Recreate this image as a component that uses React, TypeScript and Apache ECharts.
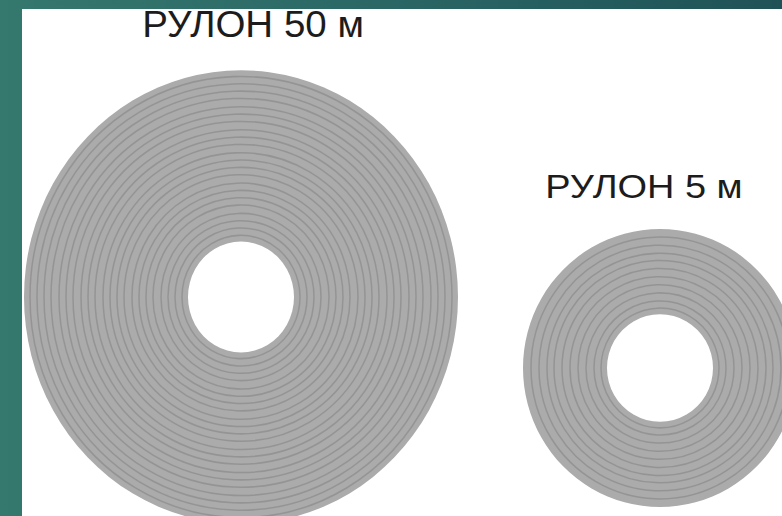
import React, { useEffect, useRef } from "react";
import * as echarts from "echarts";

// Roll labels and geometry (in picture units)
const rollNames = ["РУЛОН 50 м", "РУЛОН 5 м"];
const rollCenterX = [241, 660];
const rollCenterY = [297, 368];
const rollOuterR = [217, 137];
const rollHoleR = [53, 53];
const rollAspect = [1.045, 1.015];

// Radii of the winding lines of each roll
const bigRingRadii = [59, 66, 73, 80, 88, 95, 102, 109, 117, 124, 131, 138, 146, 153, 160, 168, 175, 182, 190, 197, 204, 211];
const smallRingRadii = [59, 66, 74, 82, 90, 98, 106, 113, 121, 129];

const W = 782;
const H = 516;

export default function App() {
  const ref = useRef<HTMLDivElement>(null);

  useEffect(() => {
    document.body.style.margin = "0";
    if (!ref.current) return;
    const chart = echarts.init(ref.current, null, { renderer: "svg" });

    const discData = rollNames.map((_, i) => [rollCenterX[i], rollCenterY[i], rollOuterR[i], rollHoleR[i], rollAspect[i]]);
    const ringData: number[][] = [];
    bigRingRadii.forEach((r) => ringData.push([rollCenterX[0], rollCenterY[0], r, rollAspect[0]]));
    smallRingRadii.forEach((r) => ringData.push([rollCenterX[1], rollCenterY[1], r, rollAspect[1]]));
    const holeData = rollNames.map((_, i) => [rollCenterX[i], rollCenterY[i], rollHoleR[i], rollAspect[i]]);

    const circleItem = (api: any, rIdx: number, aIdx: number, style: any) => {
      const p = api.coord([api.value(0), api.value(1)]);
      const r = api.size([api.value(rIdx), 0])[0];
      return {
        type: "circle",
        x: p[0],
        y: p[1],
        scaleY: api.value(aIdx),
        shape: { cx: 0, cy: 0, r },
        style,
      };
    };

    chart.setOption({
      animation: false,
      backgroundColor: "transparent",
      grid: { left: 0, right: 0, top: 0, bottom: 0 },
      xAxis: { type: "value", min: 0, max: W, show: false },
      yAxis: { type: "value", min: 0, max: H, inverse: true, show: false },
      graphic: [
        {
          type: "rect",
          z: -10,
          shape: { x: 22, y: 9, width: W - 22, height: H - 9 },
          style: { fill: "#ffffff" },
          silent: true,
        },
        {
          type: "text",
          x: 253,
          y: 6,
          scaleX: 1.07,
          style: {
            text: rollNames[0],
            fill: "#1c1c1c",
            font: "36px 'Liberation Sans', Arial, sans-serif",
            textAlign: "center",
            textVerticalAlign: "top",
          },
        },
        {
          type: "text",
          x: 644,
          y: 170,
          scaleX: 1.15,
          style: {
            text: rollNames[1],
            fill: "#1c1c1c",
            font: "33px 'Liberation Sans', Arial, sans-serif",
            textAlign: "center",
            textVerticalAlign: "top",
          },
        },
      ],
      series: [
        {
          type: "custom",
          coordinateSystem: "cartesian2d",
          data: discData,
          z: 1,
          clip: false,
          renderItem: (_p: any, api: any) => circleItem(api, 2, 4, { fill: "#ababab", stroke: null }),
        },
        {
          type: "custom",
          coordinateSystem: "cartesian2d",
          data: ringData,
          z: 2,
          clip: false,
          renderItem: (_p: any, api: any) =>
            circleItem(api, 2, 3, { fill: null, stroke: "#8e8e8e", lineWidth: 1.5, opacity: 0.8 }),
        },
        {
          type: "custom",
          coordinateSystem: "cartesian2d",
          data: holeData,
          z: 3,
          clip: false,
          renderItem: (_p: any, api: any) => circleItem(api, 2, 3, { fill: "#ffffff", stroke: null }),
        },
      ],
    });

    return () => chart.dispose();
  }, []);

  return (
    <div
      style={{
        width: W,
        height: H,
        background: "linear-gradient(90deg, #35786e 0%, #2c6a67 40%, #1f5257 100%)",
        overflow: "hidden",
      }}
    >
      <div ref={ref} style={{ width: W, height: H }} />
    </div>
  );
}
